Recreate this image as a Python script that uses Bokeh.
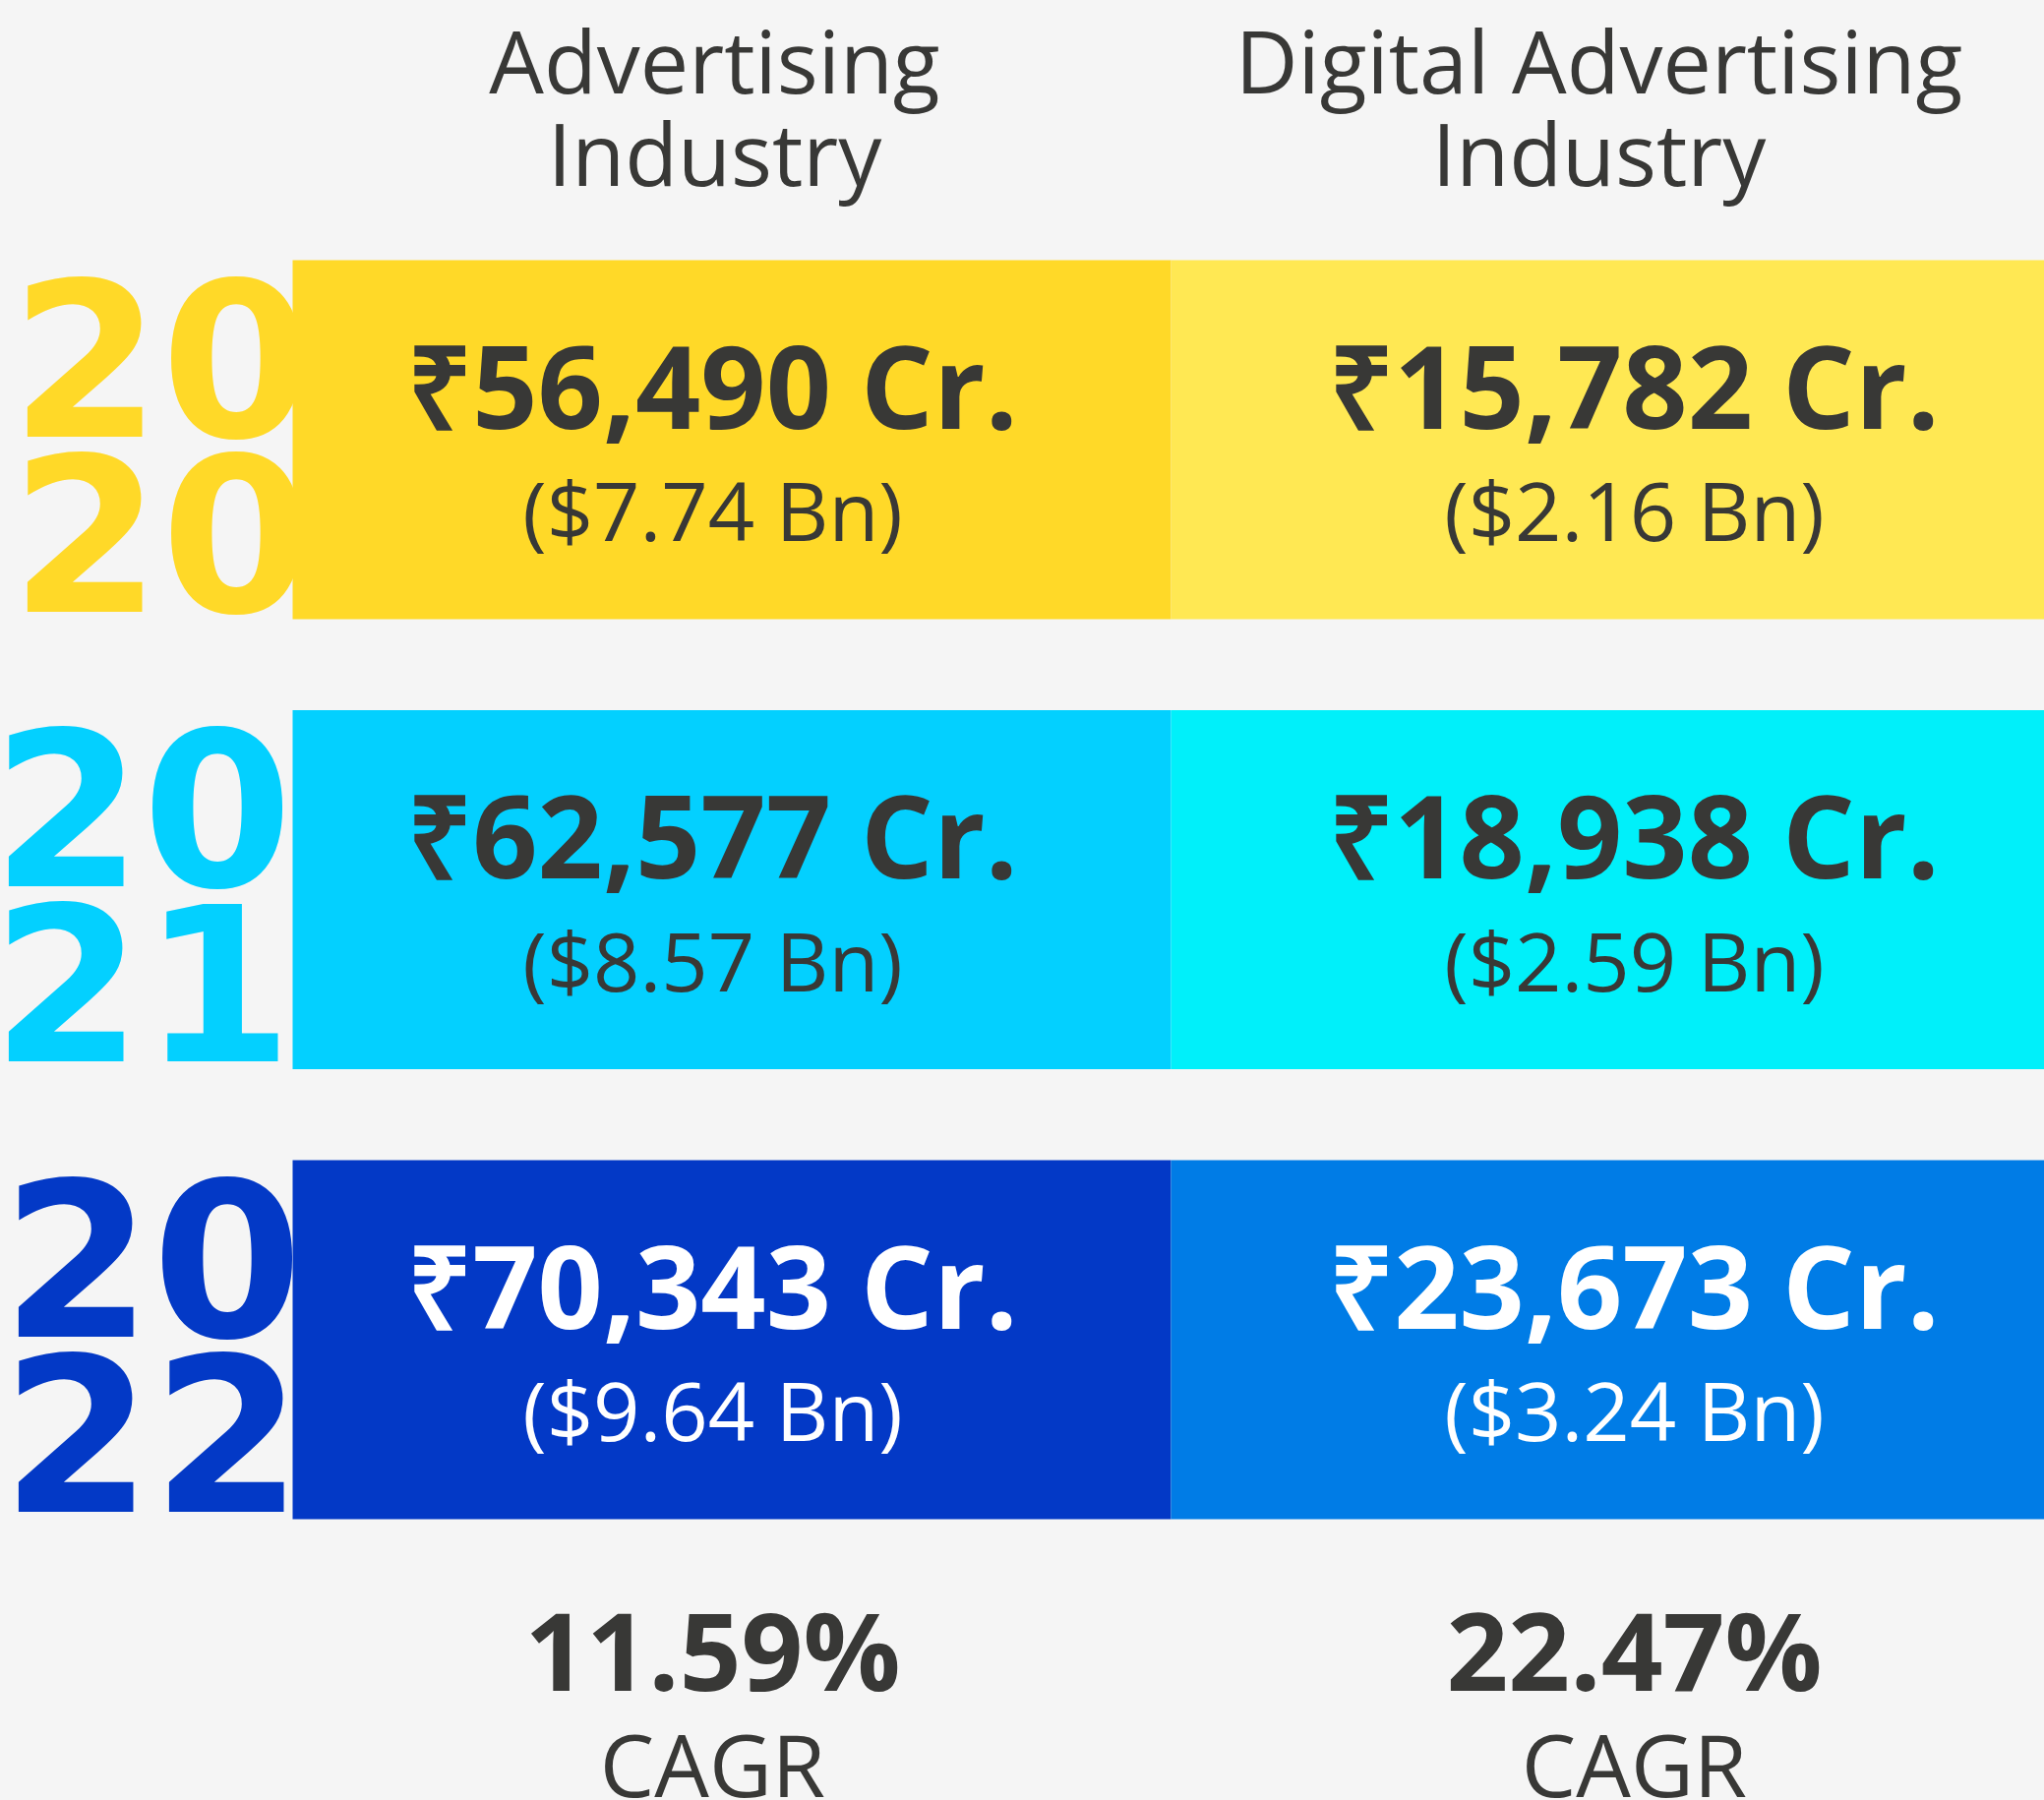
from bokeh.plotting import figure
from bokeh.models import Range1d, ColumnDataSource, GlobalInlineStyleSheet
from bokeh.core.properties import value
from bokeh.embed import file_html
from bokeh.resources import INLINE

# ---------------- data ----------------
years = ["2020", "2021", "2022"]
header_line1 = ["Advertising", "Digital Advertising"]
header_line2 = ["Industry", "Industry"]
adv_cr = [56490, 62577, 70343]          # ₹ crore
adv_usd_bn = [7.74, 8.57, 9.64]         # $ billion
dig_cr = [15782, 18938, 23673]          # ₹ crore
dig_usd_bn = [2.16, 2.59, 3.24]         # $ billion
cagr_pct = [11.59, 22.47]
cagr_label = "CAGR"

# ---------------- style ----------------
BG = "#f5f5f5"
DARK = "#383836"
left_colors = ["#FFD928", "#03D0FF", "#0339C6"]
right_colors = ["#FFE853", "#00F0FA", "#007CE6"]
text_colors = [DARK, DARK, "#FFFFFF"]

W, H = 2078, 1830
row_top0, row_step, row_h = 264, 457.5, 365
col_edges = [297, 1190, 2078]
text_cx = [724, 1661]
header_cx = [726, 1625]
year_x = [10, -9, 1]

FS_YEAR, FS_MAIN, FS_SUB, FS_HEAD, FS_PCT, FS_LAB = 220, 116, 83, 88, 110, 88
SHIFT = 0.37  # baseline correction (fraction of font size)


def base(y, fs):
    return y - SHIFT * fs


p = figure(width=W, height=H,
           x_range=Range1d(0, W), y_range=Range1d(H, 0),
           output_backend="svg", toolbar_location=None,
           x_axis_type=None, y_axis_type=None, min_border=0,
           background_fill_color=BG, border_fill_color=BG,
           outline_line_color=None)
p.grid.visible = False
p.stylesheets = [GlobalInlineStyleSheet(css=f"body{{background:{BG};}}")]

n = len(years)
tops = [row_top0 + i * row_step for i in range(n)]

# ---- year labels (drawn first; the cells overlap them) ----
ysrc = ColumnDataSource(dict(
    x=year_x + year_x,
    y=[base(t + 180, FS_YEAR) for t in tops] + [base(t + 358, FS_YEAR) for t in tops],
    text=[y[:2] for y in years] + [y[2:] for y in years],
    color=left_colors + left_colors,
))
p.text(x="x", y="y", text="text", source=ysrc, text_color="color",
       text_font=value("DejaVu Sans"), text_font_style="bold",
       text_font_size=f"{FS_YEAR}px", text_align="left", text_baseline="alphabetic")

# ---- cells ----
csrc = ColumnDataSource(dict(
    left=[col_edges[0]] * n + [col_edges[1]] * n,
    right=[col_edges[1]] * n + [col_edges[2]] * n,
    top=tops + tops,
    bottom=[t + row_h for t in tops] * 2,
    color=left_colors + right_colors,
))
p.quad(left="left", right="right", top="top", bottom="bottom", source=csrc,
       fill_color="color", line_color=None)

# ---- values ----
main_txt = [f"₹{v:,} Cr." for v in adv_cr] + [f"₹{v:,} Cr." for v in dig_cr]
sub_txt = [f"(${v:.2f} Bn)" for v in adv_usd_bn] + [f"(${v:.2f} Bn)" for v in dig_usd_bn]
vx = [text_cx[0]] * n + [text_cx[1]] * n
vsrc = ColumnDataSource(dict(
    x=vx,
    y_main=[base(t + 169, FS_MAIN) for t in tops] * 2,
    y_sub=[base(t + 284, FS_SUB) for t in tops] * 2,
    main=main_txt, sub=sub_txt, color=text_colors + text_colors,
))
p.text(x="x", y="y_main", text="main", source=vsrc, text_color="color",
       text_font=value("Open Sans"), text_font_style="bold",
       text_font_size=f"{FS_MAIN}px", text_align="center", text_baseline="alphabetic")
p.text(x="x", y="y_sub", text="sub", source=vsrc, text_color="color",
       text_font=value("Open Sans"), text_font_style="normal",
       text_font_size=f"{FS_SUB}px", text_align="center", text_baseline="alphabetic")

# ---- headers ----
hsrc = ColumnDataSource(dict(x=header_cx,
                             y1=[base(93, FS_HEAD)] * 2, y2=[base(187, FS_HEAD)] * 2,
                             l1=header_line1, l2=header_line2))
for col, yc in (("l1", "y1"), ("l2", "y2")):
    p.text(x="x", y=yc, text=col, source=hsrc,
           text_color=DARK, text_font=value("Open Sans"), text_font_style="normal",
           text_font_size=f"{FS_HEAD}px", text_align="center", text_baseline="alphabetic")

# ---- CAGR ----
gsrc = ColumnDataSource(dict(x=text_cx,
                             y1=[base(1716, FS_PCT)] * 2, y2=[base(1825, FS_LAB)] * 2,
                             pct=[f"{v:.2f}%" for v in cagr_pct],
                             lab=[cagr_label, cagr_label]))
p.text(x="x", y="y1", text="pct", source=gsrc, text_color=DARK,
       text_font=value("Open Sans"), text_font_style="bold",
       text_font_size=f"{FS_PCT}px", text_align="center", text_baseline="alphabetic")
p.text(x="x", y="y2", text="lab", source=gsrc, text_color=DARK,
       text_font=value("Open Sans"), text_font_style="normal",
       text_font_size=f"{FS_LAB}px", text_align="center", text_baseline="alphabetic")

open("out.html", "w").write(file_html(p, INLINE))
